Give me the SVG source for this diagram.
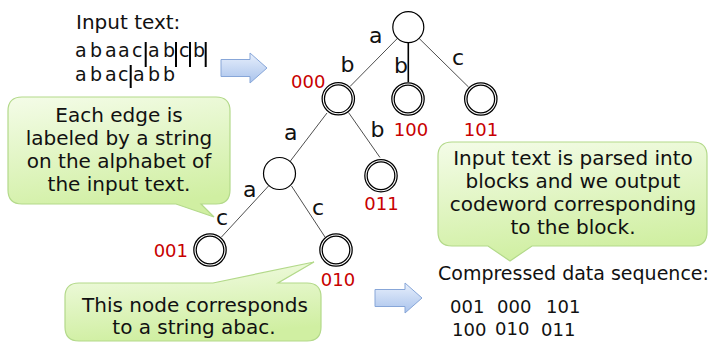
<svg xmlns="http://www.w3.org/2000/svg" width="715" height="342" viewBox="0 0 715 342">
  <defs>
    <linearGradient id="calloutFill" x1="0" y1="0" x2="0.25" y2="1">
      <stop offset="0" stop-color="#f4fce8"/>
      <stop offset="1" stop-color="#d0efa2"/>
    </linearGradient>
    <linearGradient id="arrowFill" x1="0" y1="0" x2="0" y2="1">
      <stop offset="0" stop-color="#e8f0fc"/>
      <stop offset="1" stop-color="#a9c3ec"/>
    </linearGradient>
    <style>
      text { font-family: "DejaVu Sans", "Liberation Sans", sans-serif; fill: #111; }
      .txt { font-size: 20px; }
      .letters { font-size: 19px; }
      .note { font-size: 20px; text-anchor: middle; }
      .edge-lbl { font-size: 22px; }
      .code { font-size: 18px; fill: #c80000; }
      .seq { font-size: 19px; }
      .digits { font-size: 18px; }
      .edge { stroke: #3a3a3a; stroke-width: 0.9; fill: none; }
      .edge-strong { stroke: #000; stroke-width: 1.6; fill: none; }
      .bar { stroke: #000; stroke-width: 2; }
      .node { fill: #fff; stroke: #000; stroke-width: 1.2; }
      .leaf-outer { fill: #fff; stroke: #000; stroke-width: 3.6; }
      .leaf-gap { fill: none; stroke: #fff; stroke-width: 1.1; }
      .callout { fill: url(#calloutFill); stroke: #b3d98a; stroke-width: 1.2; }
      .arrow { fill: url(#arrowFill); stroke: #87a6d8; stroke-width: 1; }
    </style>
  </defs>

  <!-- input string with block separators -->
  <g id="input-text">
    <text class="txt" x="76" y="29">Input text:</text>
    <text class="letters" y="57" x="75 90 105 118 132 148 163 179 193">abaacabcb</text>
    <text class="letters" y="81" x="75 90 105 118 133 148 163">abacabb</text>
    <line class="bar" x1="145.7" y1="42" x2="145.7" y2="67"/>
    <line class="bar" x1="176" y1="42" x2="176" y2="67"/>
    <line class="bar" x1="190" y1="42" x2="190" y2="67"/>
    <line class="bar" x1="205.7" y1="42" x2="205.7" y2="67"/>
    <line class="bar" x1="130.7" y1="65" x2="130.7" y2="88"/>
  </g>

  <!-- block arrows -->
  <path id="arrow-parse" class="arrow" d="M221,59.5 H250 V53 L267,68 L250,83 V76.5 H221 Z"/>
  <path id="arrow-output" class="arrow" d="M375,289.5 H405 V283 L422,298 L405,313 V306.5 H375 Z"/>

  <!-- tree edges -->
  <g id="connectors">
    <line class="edge" x1="397.5" y1="38.3" x2="350" y2="86.5"/>
    <line class="edge-strong" x1="408.3" y1="42.7" x2="408.3" y2="82"/>
    <line class="edge" x1="419.2" y1="38.5" x2="468.5" y2="87"/>
    <line class="edge" x1="327" y1="113" x2="290" y2="161.5"/>
    <line class="edge" x1="348.5" y1="112.5" x2="380" y2="157.5"/>
    <line class="edge" x1="268.5" y1="186" x2="221.5" y2="237"/>
    <line class="edge" x1="291.5" y1="186" x2="325" y2="237"/>
  </g>

  <!-- edge labels -->
  <g id="edge-labels">
    <text class="edge-lbl" x="369" y="43">a</text>
    <text class="edge-lbl" x="340.5" y="71.5">b</text>
    <text class="edge-lbl" x="394" y="73">b</text>
    <text class="edge-lbl" x="452" y="65">c</text>
    <text class="edge-lbl" x="284" y="140">a</text>
    <text class="edge-lbl" x="370.5" y="136.5">b</text>
    <text class="edge-lbl" x="243" y="196.5">a</text>
    <text class="edge-lbl" x="216" y="225">c</text>
    <text class="edge-lbl" x="312" y="215">c</text>
  </g>

  <!-- tree nodes -->
  <g id="node-root">
    <circle class="node" cx="408.3" cy="27.2" r="15.5"/>
  </g>
  <g id="node-000">
    <circle class="leaf-outer" cx="338.3" cy="98.8" r="15"/>
    <circle class="leaf-gap" cx="338.3" cy="98.8" r="15"/>
    <text class="code" x="291" y="88">000</text>
  </g>
  <g id="node-100">
    <circle class="leaf-outer" cx="408" cy="99" r="15"/>
    <circle class="leaf-gap" cx="408" cy="99" r="15"/>
    <text class="code" x="411" y="136" text-anchor="middle">100</text>
  </g>
  <g id="node-101">
    <circle class="leaf-outer" cx="480.8" cy="99" r="15"/>
    <circle class="leaf-gap" cx="480.8" cy="99" r="15"/>
    <text class="code" x="481" y="136" text-anchor="middle">101</text>
  </g>
  <g id="node-aba">
    <circle class="node" cx="279.5" cy="173.5" r="16"/>
  </g>
  <g id="node-011">
    <circle class="leaf-outer" cx="381" cy="175.7" r="15"/>
    <circle class="leaf-gap" cx="381" cy="175.7" r="15"/>
    <text class="code" x="381.5" y="210" text-anchor="middle">011</text>
  </g>
  <g id="node-001">
    <circle class="leaf-outer" cx="210" cy="250" r="15"/>
    <circle class="leaf-gap" cx="210" cy="250" r="15"/>
    <text class="code" x="188" y="257" text-anchor="end">001</text>
  </g>
  <g id="node-010">
    <circle class="leaf-outer" cx="336" cy="250" r="15"/>
    <circle class="leaf-gap" cx="336" cy="250" r="15"/>
    <text class="code" x="338" y="286" text-anchor="middle">010</text>
  </g>

  <!-- speech-bubble notes -->
  <g id="note-edges">
    <path class="callout" d="M22,97 H216 Q230,97 230,111 V190 Q230,204 216,204 H201 L214,217 L176,204 H22 Q8,204 8,190 V111 Q8,97 22,97 Z"/>
    <text class="note" x="119" y="122">Each edge is</text>
    <text class="note" x="119" y="145">labeled by a string</text>
    <text class="note" x="119" y="168">on the alphabet of</text>
    <text class="note" x="119" y="191">the input text.</text>
  </g>
  <g id="note-parse">
    <path class="callout" d="M452,142 H693 Q707,142 707,156 V232 Q707,246 693,246 H532 L510,261 L488,246 H452 Q438,246 438,232 V156 Q438,142 452,142 Z"/>
    <text class="note" x="573" y="165">Input text is parsed into</text>
    <text class="note" x="573" y="188">blocks and we output</text>
    <text class="note" x="573" y="211">codeword corresponding</text>
    <text class="note" x="573" y="234">to the block.</text>
  </g>
  <g id="note-abac">
    <path class="callout" d="M79,283 H213 L314,262 L278,283 H307 Q321,283 321,297 V327 Q321,341 307,341 H79 Q65,341 65,327 V297 Q65,283 79,283 Z"/>
    <text class="note" x="195" y="312">This node corresponds</text>
    <text class="note" x="194" y="334">to a string abac.</text>
  </g>

  <!-- output codewords -->
  <g id="output">
    <text class="seq" x="438" y="280">Compressed data sequence:</text>
    <text class="digits" x="450" y="313">001</text>
    <text class="digits" x="497" y="313">000</text>
    <text class="digits" x="546" y="313">101</text>
    <text class="digits" x="452" y="336">100</text>
    <text class="digits" x="495" y="334.5">010</text>
    <text class="digits" x="541" y="336">011</text>
  </g>
</svg>
